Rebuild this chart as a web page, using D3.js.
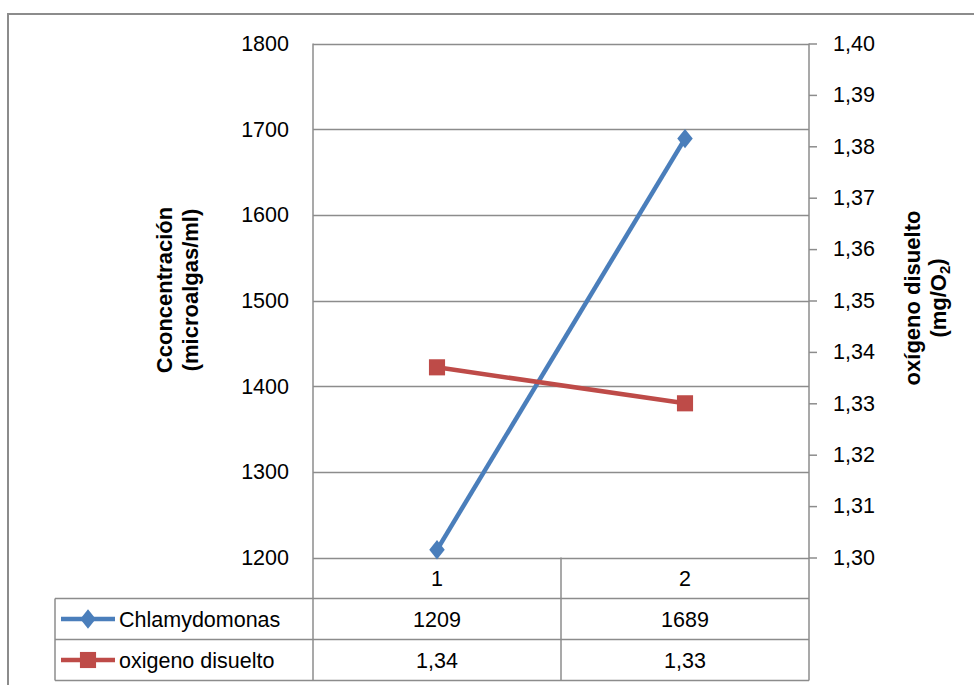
<!DOCTYPE html>
<html><head><meta charset="utf-8">
<script src="https://cdn.jsdelivr.net/npm/d3@7"></script>
<style>body{margin:0;background:#fff}svg{display:block}text{font-family:"Liberation Sans",Arial,sans-serif}</style>
</head><body><div id="c"></div>
<script>
const categories = ["1", "2"];
const chlamy = [1209, 1689];
const oxigeno = [1.337, 1.330];
const oxigenoLabels = ["1,34", "1,33"];
const leftTicks = [1200, 1300, 1400, 1500, 1600, 1700, 1800];
const rightTicks = [1.30, 1.31, 1.32, 1.33, 1.34, 1.35, 1.36, 1.37, 1.38, 1.39, 1.40];
const seriesNames = ["Chlamydomonas", "oxigeno disuelto"];

const W = 974, H = 685;
const FS = 21.5;
const svg = d3.select("#c").append("svg").attr("width", W).attr("height", H);
const grid = "#8c8c8c";
const blue = "#4A7EBB", red = "#BE4B48";
const L = 313, R = 809, T = 43.5, B = 557.5;
const tableLeft = 55, rowY = [557.5, 598.5, 639.5, 680.5];

// outer border
svg.append("path").attr("d", `M8,${H+2}V14H${W+2}`).attr("fill","none").attr("stroke",grid).attr("stroke-width",2);

const x = d3.scaleBand().domain(categories).range([L, R]);
const yL = d3.scaleLinear().domain([1200, 1800]).range([B, T]);
const yR = d3.scaleLinear().domain([1.30, 1.40]).range([B, T]);

// gridlines
svg.append("g").selectAll("line").data(leftTicks).join("line")
  .attr("x1", L).attr("x2", R).attr("y1", d => Math.round(yL(d))+0.5).attr("y2", d => Math.round(yL(d))+0.5)
  .attr("stroke", grid).attr("stroke-width", 1.5);

// left axis labels
svg.append("g").selectAll("text").data(leftTicks).join("text")
  .attr("x", 289).attr("y", d => yL(d)).attr("dy","0.35em").attr("text-anchor","end")
  .attr("font-size", FS).text(d => d);

// right axis
const gR = svg.append("g").attr("transform", `translate(${R},0)`)
  .call(d3.axisRight(yR).tickValues(rightTicks).tickSize(8).tickPadding(16)
    .tickFormat(d => d3.format(".2f")(d).replace(".", ",")));
gR.select(".domain").remove();
gR.selectAll(".tick line").attr("stroke", grid).attr("stroke-width", 1.5);
gR.selectAll(".tick text").attr("font-size", FS).attr("fill","#000").attr("font-family",'"Liberation Sans",Arial,sans-serif');

// vertical lines (plot left, right axis, category separators)
const vlines = [[L, T, rowY[3]], [R, T, rowY[3]], [x("2"), B, rowY[3]]];
svg.append("g").selectAll("line").data(vlines).join("line")
  .attr("x1", d => d[0]).attr("x2", d => d[0]).attr("y1", d => d[1]).attr("y2", d => d[2])
  .attr("stroke", grid).attr("stroke-width", 1.5);
svg.append("line").attr("x1", tableLeft).attr("x2", tableLeft).attr("y1", rowY[1]).attr("y2", rowY[3])
  .attr("stroke", grid).attr("stroke-width", 1.5);
// horizontal table lines
svg.append("g").selectAll("line").data(rowY.slice(1)).join("line")
  .attr("x1", tableLeft).attr("x2", R).attr("y1", d => d).attr("y2", d => d)
  .attr("stroke", grid).attr("stroke-width", 1.5);

// category labels
const cx = d => x(d) + x.bandwidth()/2;
svg.append("g").selectAll("text").data(categories).join("text")
  .attr("x", cx).attr("y", (rowY[0]+rowY[1])/2).attr("dy","0.35em").attr("text-anchor","middle")
  .attr("font-size", FS).text(d => d);

// table values
const rows = [chlamy.map(String), oxigenoLabels];
rows.forEach((vals, r) => {
  svg.append("g").selectAll("text").data(vals).join("text")
    .attr("x", (d,i) => cx(categories[i])).attr("y", (rowY[r+1]+rowY[r+2])/2).attr("dy","0.35em")
    .attr("text-anchor","middle").attr("font-size", FS).text(d => d);
});

// legend keys in table
const diamond = d3.symbol().type(d3.symbolSquare).size(120);
const square = d3.symbol().type(d3.symbolSquare).size(260);
const dT = (px, py) => `translate(${px},${py}) scale(1,1.25) rotate(45)`;
seriesNames.forEach((name, r) => {
  const yy = (rowY[r+1]+rowY[r+2])/2;
  const col = r === 0 ? blue : red;
  svg.append("line").attr("x1", 61).attr("x2", 115).attr("y1", yy).attr("y2", yy)
    .attr("stroke", col).attr("stroke-width", 4.5);
  svg.append("path").attr("d", r === 0 ? diamond() : square())
    .attr("transform", r === 0 ? dT(88, yy) : `translate(88,${yy})`).attr("fill", col);
  svg.append("text").attr("x", 119).attr("y", yy).attr("dy","0.35em").attr("font-size", FS).text(name);
});

// series lines
const lineB = d3.line().x((d,i) => cx(categories[i])).y(d => yL(d));
const lineR = d3.line().x((d,i) => cx(categories[i])).y(d => yR(d));
svg.append("path").datum(chlamy).attr("d", lineB).attr("fill","none").attr("stroke", blue).attr("stroke-width", 4.5);
svg.append("path").datum(oxigeno).attr("d", lineR).attr("fill","none").attr("stroke", red).attr("stroke-width", 4.5);
svg.append("g").selectAll("path").data(chlamy).join("path")
  .attr("d", diamond()).attr("transform", (d,i) => dT(cx(categories[i]), yL(d))).attr("fill", blue);
svg.append("g").selectAll("path").data(oxigeno).join("path")
  .attr("d", square()).attr("transform", (d,i) => `translate(${cx(categories[i])},${yR(d)})`).attr("fill", red);

// axis titles
const lt = svg.append("text").attr("transform", "translate(176,290) rotate(-90)").attr("text-anchor","middle")
  .attr("font-size", 22).attr("font-weight","bold");
lt.append("tspan").attr("x",0).attr("dy","-0.2em").text("Cconcentración");
lt.append("tspan").attr("x",0).attr("dy","1.2em").text("(microalgas/ml)");
const rt = svg.append("text").attr("transform", "translate(924,298) rotate(-90)").attr("text-anchor","middle")
  .attr("font-size", 22).attr("font-weight","bold");
rt.append("tspan").attr("x",0).attr("dy","-0.2em").text("oxígeno disuelto");
rt.append("tspan").attr("x",0).attr("dy","1.2em").text("(mg/O");
rt.append("tspan").attr("font-size", 15).attr("dy","0.25em").text("2");
rt.append("tspan").attr("dy","-0.25em").text(")");
</script></body></html>
